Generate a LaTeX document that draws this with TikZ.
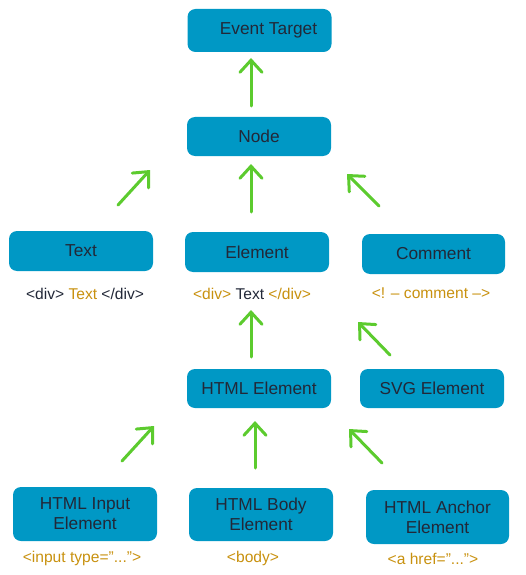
\documentclass[tikz,border=0pt]{standalone}
\usepackage{fontspec}
\setmainfont{Liberation Sans}
\usetikzlibrary{arrows.meta}
\definecolor{boxblue}{HTML}{0098C5}
\definecolor{txtdark}{HTML}{222838}
\definecolor{tagorange}{HTML}{C8910F}
\definecolor{arrowgreen}{HTML}{5CCB2E}
\tikzset{
  x=1pt, y=-1pt,
  box/.style={fill=boxblue, rounded corners=8pt, minimum width=144pt, minimum height=40pt,
    inner sep=0pt, text=txtdark, align=center, font=\fontsize{17.3}{20}\selectfont},
  tall/.style={minimum height=54pt},
  tag/.style={inner sep=0pt, text=tagorange, font=\fontsize{15.6}{18}\selectfont},
  up/.style={draw=arrowgreen, line width=3pt, line cap=round,
    -{Straight Barb[length=12pt,width=22pt,line cap=round]}},
}
\begin{document}
\begin{tikzpicture}
\useasboundingbox (0,0) rectangle (525,575);
% boxes
\node[box, minimum height=43pt] (et) at (259.5,30.5) {\hspace{18pt}Event Target};
\node[box, minimum height=39pt] (node) at (259,136.5) {Node};
\node[box] (text) at (81,251) {Text};
\node[box] (elem) at (257,252) {Element};
\node[box, minimum width=143pt] (comm) at (433.5,254) {Comment};
\node[box, minimum height=39pt] (html) at (259,388.5) {HTML Element};
\node[box, minimum height=39pt] (svg) at (432,388.5) {SVG Element};
\node[box, tall] (input) at (85,514) {HTML Input\\Element};
\node[box, tall, minimum height=53pt] (body) at (261,514.5) {HTML Body\\Element};
\node[box, tall, minimum width=143pt] (anchor) at (437.5,517) {HTML Anchor\\Element};
% tag labels
\node[tag, text=txtdark] (ltext) at (85,294) {<div> \textcolor{tagorange}{Text} </div>};
\node[tag] (lelem) at (252,294) {<div> \textcolor{txtdark}{Text} </div>};
\node[tag] (lcomm) at (431,293) {<! -- comment -->};
\node[tag] (linput) at (82,558) {<input type=”...”>};
\node[tag] (lbody) at (253,558) {<body>};
\node[tag] (lanchor) at (433,559) {<a href=”...”>};
% arrow end points
\coordinate (a1s) at (251,106); \coordinate (a1e) at (251,58);
\coordinate (a2s) at (251,212); \coordinate (a2e) at (251,164);
\coordinate (a3s) at (118,205); \coordinate (a3e) at (150,170);
\coordinate (a4s) at (379,206); \coordinate (a4e) at (347,174);
\coordinate (a5s) at (251,357); \coordinate (a5e) at (251,310);
\coordinate (a6s) at (390,355); \coordinate (a6e) at (358,322);
\coordinate (a7s) at (122,461); \coordinate (a7e) at (154,426);
\coordinate (a8s) at (255,468); \coordinate (a8e) at (255,421);
\coordinate (a9s) at (382,463); \coordinate (a9e) at (349,429);
\draw[up] (a1s) -- (a1e);
\draw[up] (a2s) -- (a2e);
\draw[up] (a3s) -- (a3e);
\draw[up] (a4s) -- (a4e);
\draw[up] (a5s) -- (a5e);
\draw[up] (a6s) -- (a6e);
\draw[up] (a7s) -- (a7e);
\draw[up] (a8s) -- (a8e);
\draw[up] (a9s) -- (a9e);
\end{tikzpicture}
\end{document}
